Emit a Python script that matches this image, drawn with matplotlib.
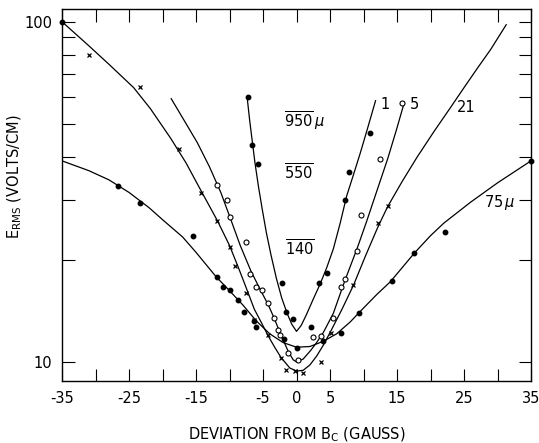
import matplotlib
matplotlib.use("Agg")
import matplotlib.pyplot as plt
from matplotlib.ticker import FixedLocator, NullFormatter

plt.rcParams['font.family'] = ['DejaVu Sans']
plt.rcParams['mathtext.fontset'] = 'dejavusans'

# curve "1" (filled dots, narrowest)
c1_line_x = [-7.36, -7.0, -6.6, -6.2, -5.7, -5.1, -4.5, -3.8, -3.0, -2.2, -1.4, -0.7, 0.0, 0.7, 1.5, 2.5, 3.5, 4.5, 5.5, 6.5, 7.5, 8.5, 9.5, 10.5, 11.8]
c1_line_y = [59.8, 51.5, 44.5, 38.5, 33.0, 28.0, 24.0, 20.6, 17.6, 15.4, 13.9, 12.9, 12.3, 12.8, 13.8, 15.3, 16.9, 18.9, 21.5, 25.5, 30.8, 35.5, 41.0, 47.8, 58.6]
c1_pts_x = [-7.3, -6.6, -5.8, -2.1, -1.6, -0.5, 2.1, 3.3, 4.6, 7.3, 7.9, 10.9]
c1_pts_y = [60, 43.4, 38.2, 17.1, 14.0, 13.4, 12.7, 17.1, 18.3, 29.9, 36.2, 47.2]

# curve "5" (open circles)
c5_line_x = [-18.7, -16.7, -14.8, -13.0, -11.3, -9.8, -8.4, -6.8, -5.4, -4.2, -3.3, -2.4, -1.2, -0.5, 0.0, 1.0, 2.1, 3.0, 4.0, 5.5, 7.2, 9.1, 10.5, 11.8, 13.6, 14.9, 16.1]
c5_line_y = [59.4, 51.0, 44.1, 37.5, 31.5, 26.2, 22.0, 18.5, 16.3, 14.7, 13.4, 12.1, 10.7, 10.15, 10.0, 10.2, 10.8, 11.4, 12.2, 13.9, 17.3, 21.7, 26.0, 31.0, 39.5, 48.0, 58.0]
c5_pts_x = [-11.9, -10.3, -10.0, -7.5, -6.9, -6.1, -5.2, -4.2, -3.3, -2.7, -2.4, -1.2, 0.2, 2.5, 3.6, 5.5, 6.7, 7.2, 9.1, 9.6, 12.5, 15.7]
c5_pts_y = [33.2, 30.0, 26.7, 22.5, 18.1, 16.6, 16.3, 14.9, 13.5, 12.4, 12.0, 10.6, 10.1, 11.8, 11.9, 13.5, 16.6, 17.5, 21.2, 27.1, 39.5, 57.8]

# curve "21" (crosses)
c21_line_x = [-35, -31, -28, -24.3, -21.8, -18.8, -16.5, -14.3, -11.8, -10, -8.7, -7.5, -6.3, -5.2, -4.2, -3.2, -2.3, -1.0, 0, 1.0, 2.0, 3.0, 4.0, 5.1, 6.8, 8.5, 10.3, 12.1, 13.6, 15.8, 18, 20.5, 23, 25, 27, 29, 31.3]
c21_line_y = [100, 85, 75, 64, 55.5, 45.5, 38.5, 32, 26, 22, 19, 16.5, 14.3, 13.0, 11.9, 11.0, 10.3, 9.6, 9.4, 9.45, 9.8, 10.4, 11.2, 12.3, 14.3, 16.8, 20.5, 24.8, 28.6, 34, 40, 47.5, 56, 64, 73, 83, 98]
c21_pts_x = [-31, -23.4, -17.6, -14.3, -11.8, -10, -9.25, -7.5, -6.3, -4.2, -2.3, -1.5, -0.2, 0.9, 3.6, 5.1, 8.5, 12.1, 13.6]
c21_pts_y = [80, 64.4, 42.3, 31.4, 26, 21.8, 19.1, 16, 13.3, 12.0, 10.3, 9.5, 9.4, 9.3, 10.0, 12.2, 16.8, 25.6, 28.8]

# curve "75 mu" (filled dots, widest)
c75_line_x = [-35, -31, -28, -25, -22, -20, -17, -15, -12, -10, -8, -6, -4, -2, 0, 2, 4, 6, 8, 10, 12, 14, 17.6, 20, 22, 26, 30, 35]
c75_line_y = [39, 36.5, 34.3, 31.5, 28.4, 26.2, 23.3, 21, 17.8, 16.2, 14.7, 13.2, 12.1, 11.4, 11.05, 11.1, 11.5, 12.1, 13.1, 14.4, 15.8, 17.2, 20.9, 23.5, 25.6, 29.5, 33.6, 39]
c75_pts_x = [-35, -26.7, -23.4, -15.4, -11.9, -11.0, -10.0, -8.7, -7.9, -6.4, -6.1, -1.9, 0.1, 3.9, 6.6, 9.3, 14.3, 17.6, 22.1, 35]
c75_pts_y = [100, 33.0, 29.4, 23.5, 17.8, 16.6, 16.3, 15.2, 14.0, 13.2, 12.7, 11.7, 11.0, 11.5, 12.2, 13.9, 17.3, 20.9, 24.1, 39.0]

xtick_vals = list(range(-35, 36, 5))
xtick_text = ['-35', '', '-25', '', '-15', '', '-5', '0', '5', '', '15', '', '25', '', '35']

fig = plt.figure(figsize=(5.39, 4.43), dpi=100)
ax = fig.add_axes([62/539, 62/443, 469/539, 372/443])
ax.set_yscale('log')

lc = 'black'
for lx, ly in [(c1_line_x, c1_line_y), (c5_line_x, c5_line_y),
               (c21_line_x, c21_line_y), (c75_line_x, c75_line_y)]:
    ax.plot(lx, ly, '-', color=lc, lw=0.9)

ax.plot(c1_pts_x, c1_pts_y, 'o', color=lc, ms=3.2, clip_on=False)
ax.plot(c5_pts_x, c5_pts_y, 'o', mfc='white', mec=lc, ms=3.6, mew=0.8, clip_on=False)
ax.plot(c21_pts_x, c21_pts_y, 'x', color=lc, ms=3.2, mew=0.9, clip_on=False)
ax.plot(c75_pts_x, c75_pts_y, 'o', color=lc, ms=3.2, clip_on=False)

ax.set_xlim(-35, 35)
ax.set_ylim(8.79, 109)

ax.set_xticks(xtick_vals)
ax.set_xticklabels(xtick_text)
ax.yaxis.set_major_locator(FixedLocator([10, 100]))
ax.set_yticklabels(['10', '100'])
ax.yaxis.set_minor_locator(FixedLocator([20, 30, 40, 50, 60, 70, 80, 90]))
ax.yaxis.set_minor_formatter(NullFormatter())
ax.tick_params(axis='both', which='both', direction='in', top=True, right=True,
               length=9, width=0.8, labelsize=10.5, pad=7)
for s in ax.spines.values():
    s.set_linewidth(1.0)

fs = 10.5
ax.text(-1.9, 51.2, r'$\overline{950}\,\mu$', fontsize=fs, va='center', ha='left')
ax.text(-1.9, 36.0, r'$\overline{550}$', fontsize=fs, va='center', ha='left')
ax.text(-1.7, 21.5, r'$\overline{140}$', fontsize=fs, va='center', ha='left')
ax.text(12.6, 57, '1', fontsize=fs, va='center', ha='left')
ax.text(16.9, 57, '5', fontsize=fs, va='center', ha='left')
ax.text(24.0, 56, '21', fontsize=fs, va='center', ha='left')
ax.text(28.0, 29.4, r'75$\,\mu$', fontsize=fs, va='center', ha='left')

ax.set_xlabel(r'DEVIATION FROM B$_{\rm C}$ (GAUSS)', fontsize=10.5, labelpad=14)
ax.set_ylabel(r'E$_{\rm RMS}$ (VOLTS/CM)', fontsize=10.5)
ax.yaxis.set_label_coords(-0.08, 0.55)

fig.savefig('out.png', dpi=100)
